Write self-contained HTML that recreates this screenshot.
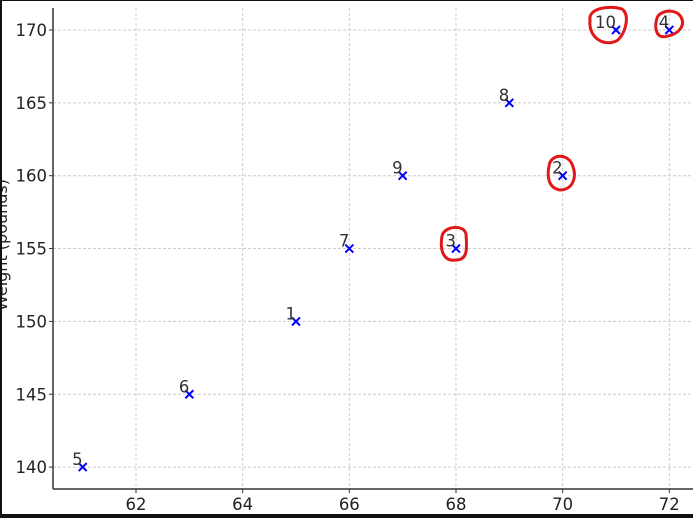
<!DOCTYPE html>
<html><head><meta charset="utf-8"><style>
body{margin:0;background:#fff;}
svg{display:block;font-family:"DejaVu Sans","Liberation Sans",sans-serif;}
</style></head><body>
<svg id="chart" width="693" height="518">
<rect x="0" y="0" width="693" height="518" fill="#fff"/>
<text x="360" y="-5" font-size="18" fill="#222" text-anchor="middle">Height vs Weight</text>
<text transform="translate(7,245) rotate(-90)" font-size="16" fill="#222" text-anchor="middle">Weight (pounds)</text>
<g id="grid"></g><g id="axes"></g><g id="marks"></g>
<g fill="none" stroke="#e01818" stroke-width="3">
<path d="M590,20 C588,8 610,5 622,9 C630,15 626,32 618,40 C605,48 588,38 590,20 Z"/>
<path d="M657,18 C660,10 676,8 681,17 C686,26 678,34 668,36 C656,40 654,28 657,18 Z"/>
<path d="M549,166 C550,155 566,152 572,164 C578,178 572,190 560,190 C548,188 547,176 549,166 Z"/>
<path d="M442,236 C444,226 464,224 466,234 C467,248 468,260 456,260 C442,262 440,248 442,236 Z"/>
</g>
<rect x="0" y="0" width="2" height="518" fill="#111"/>
<rect x="0" y="0" width="693" height="1" fill="#111"/>
<rect x="0" y="514" width="693" height="4" fill="#111"/>
</svg>
<script>
const heights=[65,70,68,72,61,63,66,69,67,71];
const weights=[150,160,155,170,140,145,155,165,160,170];
const labels=["1","2","3","4","5","6","7","8","9","10"];
const xTicks=[62,64,66,68,70,72];
const yTicks=[140,145,150,155,160,165,170];
const NS="http://www.w3.org/2000/svg";
const L=53,B=489;
function sx(v){return 136+(v-62)*53.33;}
function sy(v){return 30+(170-v)*14.57;}
function mk(t,a,p){const e=document.createElementNS(NS,t);for(const k in a)e.setAttribute(k,a[k]);p.appendChild(e);return e;}
const grid=document.getElementById('grid'),axes=document.getElementById('axes'),marks=document.getElementById('marks');
xTicks.forEach(v=>{const x=sx(v);
const g=mk('line',{x1:x,x2:x,y1:8,y2:B,stroke:'#ccc','stroke-dasharray':'3,2','stroke-width':1},grid);

mk('line',{x1:x,x2:x,y1:B,y2:B+4,stroke:'#333'},axes);
const t=mk('text',{x:x,y:B+21,'font-size':16.5,fill:'#222','text-anchor':'middle'},axes);t.textContent=v;
});
yTicks.forEach(v=>{const y=sy(v);
const g=mk('line',{x1:L,x2:693,y1:y,y2:y,stroke:'#ccc','stroke-dasharray':'3,2','stroke-width':1},grid);

mk('line',{x1:L-4,x2:L,y1:y,y2:y,stroke:'#333'},axes);
const t=mk('text',{x:L-6,y:y+6,'font-size':16.5,fill:'#222','text-anchor':'end'},axes);t.textContent=v;
});
const ya=mk('line',{x1:L,x2:L,y1:8,y2:B,stroke:'#333','stroke-width':1.5},axes);

const xa=mk('line',{x1:L,x2:693,y1:B,y2:B,stroke:'#333','stroke-width':1.5},axes);

heights.forEach((h,i)=>{const x=sx(h),y=sy(weights[i]);
const p=mk('path',{d:`M${x-4},${y-4}L${x+4},${y+4}M${x-4},${y+4}L${x+4},${y-4}`,stroke:'#00f','stroke-width':2},marks);

const t=mk('text',{x:x,y:y-2,'font-size':16.5,fill:'#333','text-anchor':'end'},marks);t.textContent=labels[i];
});
</script>
</body></html>
